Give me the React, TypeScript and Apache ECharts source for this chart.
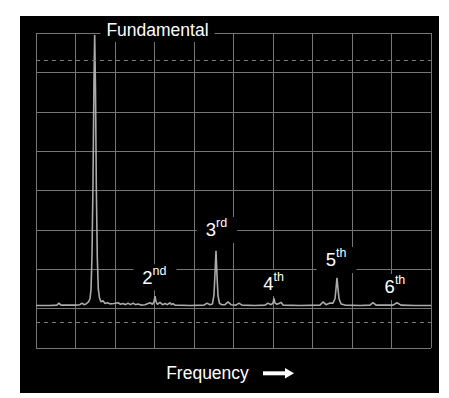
import React, { useEffect, useRef } from 'react';
import * as echarts from 'echarts';

// Frequency positions (grid columns) and amplitude (grid rows)
const freq = [
  0, 0.35, 0.53, 0.58, 0.63, 0.99, 1.11, 1.165, 1.215, 1.266,
  1.33, 1.367, 1.392, 1.418, 1.443, 1.468, 1.486, 1.506, 1.527, 1.552,
  1.577, 1.608, 1.646, 1.696, 1.747, 1.81, 1.873, 1.975, 2.076, 2.139,
  2.203, 2.266, 2.329, 2.392, 2.456, 2.519, 2.582, 2.658, 2.759, 2.886,
  2.949, 2.987, 3.013, 3.038, 3.076, 3.139, 3.203, 3.266, 3.329, 3.392,
  3.43, 3.468, 3.519, 3.9, 4.253, 4.329, 4.405, 4.468, 4.506, 4.532,
  4.557, 4.582, 4.608, 4.646, 4.709, 4.785, 4.861, 4.937, 5.063, 5.139,
  5.215, 5.544, 5.797, 5.873, 5.949, 6.0, 6.025, 6.051, 6.101, 6.152,
  6.203, 6.253, 6.684, 7.19, 7.266, 7.342, 7.443, 7.519, 7.57, 7.595,
  7.62, 7.646, 7.671, 7.722, 7.823, 8.203, 8.456, 8.532, 8.608, 9.038,
  9.139, 9.241, 9.595, 10,
];
const amp = [
  1.08, 1.08, 1.09, 1.14, 1.09, 1.09, 1.1, 1.14, 1.1, 1.12,
  1.17, 1.25, 1.47, 2.35, 4.2, 6.8, 7.95, 6.6, 4.1, 2.3,
  1.5, 1.27, 1.17, 1.2, 1.13, 1.15, 1.12, 1.13, 1.15, 1.11,
  1.13, 1.1, 1.14, 1.1, 1.14, 1.1, 1.12, 1.09, 1.1, 1.15,
  1.11, 1.18, 1.32, 1.18, 1.11, 1.16, 1.1, 1.13, 1.1, 1.15,
  1.1, 1.13, 1.09, 1.08, 1.09, 1.14, 1.1, 1.12, 1.35, 1.9,
  2.47, 1.85, 1.32, 1.13, 1.1, 1.1, 1.17, 1.1, 1.09, 1.14,
  1.09, 1.08, 1.09, 1.14, 1.1, 1.14, 1.26, 1.14, 1.11, 1.13,
  1.16, 1.09, 1.08, 1.09, 1.17, 1.1, 1.14, 1.14, 1.25, 1.5,
  1.785, 1.5, 1.25, 1.12, 1.09, 1.08, 1.09, 1.15, 1.09, 1.09,
  1.15, 1.09, 1.08, 1.08,
];

const harmonicDigits = ['2', '3', '4', '5', '6'];
const harmonicSuffixes = ['nd', 'rd', 'th', 'th', 'th'];
const harmonicLabelX = [3.01, 4.58, 6.03, 7.61, 9.1];
const harmonicLabelY = [1.8, 3.0, 1.65, 2.235, 1.55];
const fundamentalText = 'Fundamental';
const fundamentalPos = [3.076, 8];
const guideLevels = [7.31, 0.66];
const axisTitle = 'Frequency';

const FONT = '"Liberation Sans", Arial, sans-serif';

export default function App() {
  const ref = useRef<HTMLDivElement>(null);
  useEffect(() => {
    if (!ref.current) return;
    const chart = echarts.init(ref.current, undefined, { renderer: 'svg' });
    const data = freq.map((f, i) => [f, amp[i]]);
    const harmonicPoints = harmonicDigits.map((d, i) => ({
      name: d + harmonicSuffixes[i],
      coord: [harmonicLabelX[i], harmonicLabelY[i]],
      label: {
        formatter: `{n|${d}}{s|${harmonicSuffixes[i]}}`,
      },
    }));
    const fundamentalPoint = {
      name: fundamentalText,
      coord: fundamentalPos,
      label: {
        formatter: fundamentalText,
        fontSize: 17.5,
        lineHeight: 24,
        padding: [0, 6, 0, 6],
        offset: [0, -3],
      },
    };
    chart.setOption({
      animation: false,
      backgroundColor: '#000',
      grid: { left: 16, right: 8, top: 17, bottom: 45 },
      xAxis: {
        type: 'value',
        min: 0,
        max: 10,
        interval: 1,
        axisLine: { show: false },
        axisTick: { show: false },
        axisLabel: { show: false },
        splitLine: { show: true, lineStyle: { color: '#767676', width: 1 } },
        name: axisTitle,
        nameLocation: 'middle',
        nameGap: 16,
        nameTextStyle: {
          color: '#fff',
          fontSize: 17.5,
          fontFamily: FONT,
          lineHeight: 18,
          padding: [0, 52, 0, 0],
        },
      },
      yAxis: {
        type: 'value',
        min: 0,
        max: 8,
        interval: 1,
        axisLine: { show: false },
        axisTick: { show: false },
        axisLabel: { show: false },
        splitLine: { show: true, lineStyle: { color: '#767676', width: 1 } },
      },
      series: [
        {
          type: 'line',
          data,
          showSymbol: false,
          symbol: 'none',
          smooth: false,
          lineStyle: { color: '#ababab', width: 1.6 },
          z: 3,
          markLine: {
            silent: true,
            symbol: 'none',
            label: { show: false },
            lineStyle: { color: '#7a7a7a', type: [4, 4], width: 1 },
            data: guideLevels.map((v) => ({ yAxis: v })),
          },
          markPoint: {
            symbol: 'circle',
            symbolSize: 0,
            itemStyle: { color: 'rgba(0,0,0,0)' },
            silent: true,
            label: {
              show: true,
              position: 'inside',
              color: '#fff',
              fontFamily: FONT,
              backgroundColor: '#000',
              padding: [0, 10, 0, 9],
              rich: {
                n: { fontSize: 18.5, lineHeight: 26, color: '#fff', fontFamily: FONT },
                s: { fontSize: 12.5, lineHeight: 12, verticalAlign: 'top', color: '#fff', fontFamily: FONT },
              },
            },
            data: [fundamentalPoint, ...harmonicPoints],
          },
        },
      ],
      graphic: [
        {
          type: 'rect',
          shape: { x: 243, y: 355.3, width: 24, height: 4 },
          style: { fill: '#fff' },
        },
        {
          type: 'polygon',
          shape: { points: [[265, 352], [274, 357.3], [265, 362.6]] },
          style: { fill: '#fff' },
        },
      ],
    });
    return () => chart.dispose();
  }, []);
  return (
    <div
      ref={ref}
      style={{ position: 'fixed', left: 20, top: 16, width: 419, height: 377 }}
    />
  );
}
